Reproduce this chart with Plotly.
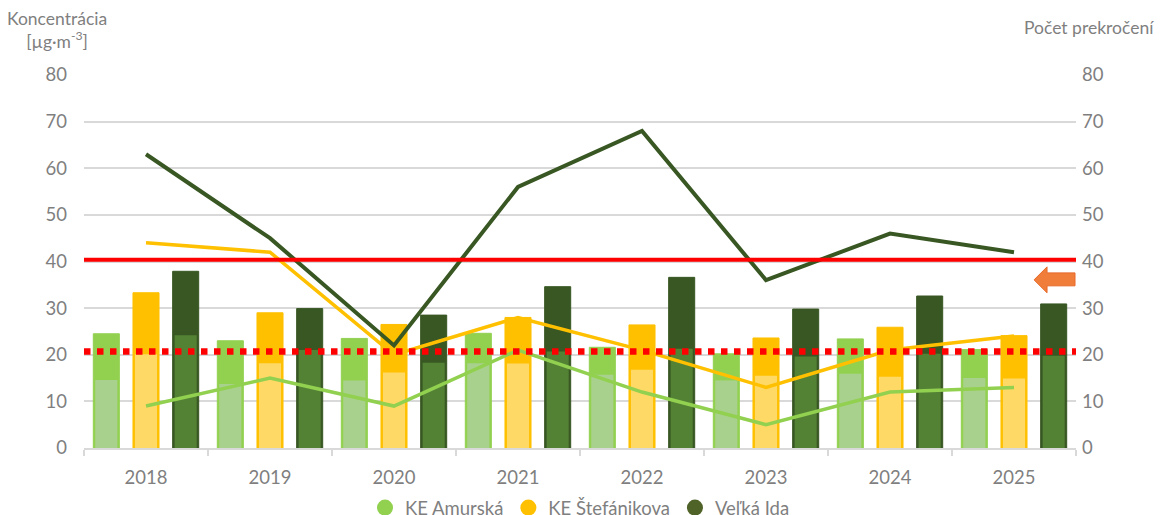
import plotly.graph_objects as go

years = ['2018', '2019', '2020', '2021', '2022', '2023', '2024', '2025']

# rocny priemer (vyssia cast stlpca) a druha hodnota (svetlejsia cast)
amurska_high = [24.5, 23.0, 23.5, 24.6, 21.6, 20.2, 23.4, 21.1]
amurska_low = [14.6, 13.7, 14.5, 18.2, 15.7, 14.5, 15.9, 15.0]
stefanikova_high = [33.3, 29.0, 26.5, 28.0, 26.4, 23.6, 25.9, 24.1]
stefanikova_low = [20.1, 18.2, 16.2, 18.1, 16.8, 15.5, 15.3, 14.9]
ida_high = [37.9, 29.9, 28.5, 34.6, 36.6, 29.8, 32.6, 30.9]
ida_low = [24.2, 21.0, 18.3, 20.7, 21.3, 19.6, 20.2, 19.8]

# pocet prekroceni (prava os)
amurska_count = [9, 15, 9, 21, 12, 5, 12, 13]
stefanikova_count = [44, 42, 20, 28, 21, 13, 21, 24]
ida_count = [63, 45, 22, 56, 68, 36, 46, 42]

limit_line = 40.4
limit_dotted = 20.7

c_green = '#92D050'
c_green_l = '#A9D18E'
c_yellow = '#FFC000'
c_yellow_l = '#FFD966'
c_dark = '#385723'
c_dark_l = '#548235'
txt = '#7F7F7F'

fig = go.Figure()

w = 0.21
inset = 0.016
bars = [
    (amurska_high, amurska_low, c_green, c_green_l, -0.425),
    (stefanikova_high, stefanikova_low, c_yellow, c_yellow_l, -0.105),
    (ida_high, ida_low, c_dark, c_dark_l, 0.215),
]
for high, low, col, col_l, off in bars:
    fig.add_trace(go.Bar(x=years, y=high, offset=off, width=w,
                         marker=dict(color=col, line=dict(color=col, width=1)),
                         showlegend=False, hoverinfo='skip'))
    fig.add_trace(go.Bar(x=years, y=low, offset=off + inset, width=w - 2 * inset,
                         marker=dict(color=col_l, line=dict(width=0)),
                         showlegend=False, hoverinfo='skip'))

for cnt, col, lw in [(amurska_count, c_green, 3.5), (stefanikova_count, c_yellow, 3.5),
                     (ida_count, c_dark, 4)]:
    fig.add_trace(go.Scatter(x=years, y=cnt, yaxis='y2', mode='lines',
                             line=dict(color=col, width=lw), showlegend=False))

# legenda
for name, col in [('KE Amurská', c_green), ('KE Štefánikova', c_yellow), ('Veľká Ida', '#4F6228')]:
    fig.add_trace(go.Scatter(x=[None], y=[None], mode='markers', name=name,
                             marker=dict(color=col, size=16, symbol='circle')))

# limity
fig.add_shape(type='line', xref='paper', x0=0, x1=1, yref='y', y0=limit_line, y1=limit_line,
              line=dict(color='#FF0000', width=4))
fig.add_shape(type='line', xref='paper', x0=0, x1=1, yref='y', y0=limit_dotted, y1=limit_dotted,
              line=dict(color='#FF0000', width=6.5, dash='dot'))

# sipka
fig.add_shape(type='path', xref='paper', yref='y',
              path='M 0.9577 36.06 L 0.9708 38.85 L 0.9708 37.56 L 0.999 37.56 '
                   'L 0.999 34.78 L 0.9708 34.78 L 0.9708 33.28 Z',
              fillcolor='#F07E3A', line=dict(color='#E8692A', width=1))

fig.add_annotation(text='Koncentrácia<br>[µg·m<sup>-3</sup>]', xref='paper', yref='paper',
                   x=-0.027, y=1.185, xanchor='center', yanchor='top', showarrow=False,
                   font=dict(size=17.5, color=txt), align='center')
fig.add_annotation(text='Počet prekročení', xref='paper', yref='paper',
                   x=1.013, y=1.16, xanchor='center', yanchor='top', showarrow=False,
                   font=dict(size=17.5, color=txt))

# stranka ma okraj 8 px, preto 1160x507
fig.update_layout(
    width=1160, height=507,
    margin=dict(l=76, r=92, t=67, b=67, autoexpand=False),
    paper_bgcolor='white', plot_bgcolor='white',
    font=dict(family='Lato', size=18, color=txt),
    barmode='overlay',
    xaxis=dict(type='category', showline=True, linecolor='#D9D9D9', linewidth=1.5,
               ticks='outside', tickson='boundaries', ticklen=6, tickcolor='#D9D9D9',
               tickwidth=1.5, tickfont=dict(size=18.5, color=txt), ticklabelstandoff=12,
               automargin=False),
    yaxis=dict(range=[0, 80], dtick=10, showgrid=True, gridcolor='#D9D9D9', gridwidth=1.5,
               zeroline=False, ticklabelstandoff=16, tickfont=dict(size=18.5, color=txt),
               automargin=False),
    yaxis2=dict(range=[0, 80], dtick=10, overlaying='y', side='right', showgrid=False,
                zeroline=False, ticklabelstandoff=5, tickfont=dict(size=18.5, color=txt),
                automargin=False),
    legend=dict(orientation='h', x=0.5, xanchor='center', y=-0.11, yanchor='top',
                font=dict(size=18.5, color=txt), itemwidth=30, tracegroupgap=0,
                borderwidth=0),
)

fig.write_html('out.html')
